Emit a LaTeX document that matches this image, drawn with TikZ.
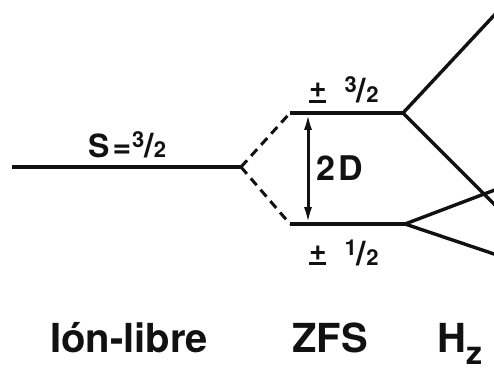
\documentclass[tikz,border=0pt]{standalone}
\usepackage{fontspec}
\setmainfont{TeX Gyre Heros}
\usepackage{xcolor}
\usetikzlibrary{arrows.meta,positioning}
\definecolor{inkmain}{HTML}{111111}
\tikzset{every node/.append style={font=\bfseries,text=inkmain,inner sep=0pt}}
\tikzset{level/.style={inkmain,line width=3.4pt},
  split/.style={level,line width=3pt,dash pattern=on 9pt off 6pt},
  lbl/.style={font=\bfseries\fontsize{32}{34}\selectfont},
  axis/.style={font=\bfseries\fontsize{40}{44}\selectfont,anchor=base}}
\newcommand{\hfr}[2]{{\fontsize{22}{22}\selectfont\raisebox{10pt}{#1}}{\fontsize{34}{34}\selectfont/}{\fontsize{22}{22}\selectfont#2}}
\newcommand{\pmbar}{\rlap{\rule{17pt}{3.2pt}}\raisebox{5pt}{\fontsize{30}{30}\selectfont+}}

\begin{document}
\begin{tikzpicture}[x=1pt,y=-1pt,>={Latex[length=17pt,width=8pt]}]
\useasboundingbox (0,0) rectangle (494,371);
\clip (0,0) rectangle (494,371);
\coordinate (free) at (12,167); \coordinate (fork) at (241,167);
\coordinate (hiL) at (290,113); \coordinate (hiR) at (403,113);
\coordinate (loL) at (290,224); \coordinate (loR) at (405,224);
\coordinate (zA) at (500,9); \coordinate (zB) at (500,210);
\coordinate (zC) at (500,188); \coordinate (zD) at (500,256);
% free ion and zero-field splitting
\draw[level] (free)--(fork);
\draw[split] (fork)--(hiL) (fork)--(loL);
\draw[level] (hiL)--(hiR) (loL)--(loR);
\draw[<->,inkmain,line width=3pt] (308,113)--(308,224);
% Zeeman branches
\draw[level] (hiR)--(zA) (hiR)--(zB) (loR)--(zC) (loR)--(zD);
\node[lbl,anchor=base west] (spin) at (88,158) {S\kern3pt=\kern1pt\hfr{3}{2}};
\node[lbl,anchor=west,font=\bfseries\fontsize{34}{36}\selectfont] (gap) at (316,168) {2\kern3pt D};
\node[lbl,anchor=base west] (plus) at (309,103) {\pmbar\hspace{18pt}\hfr{3}{2}};
\node[lbl,anchor=base west] (minus) at (309,265) {\pmbar\hspace{18pt}\hfr{1}{2}};
\node[axis] (ion) at (129,352) {Ión-libre};
\node[axis] (zfs) at (330,352) {ZFS};
\node[axis,anchor=base west] (hz) at (437,352) {H\raisebox{-.3em}{\fontsize{32}{34}\selectfont z}};
\end{tikzpicture}
\end{document}
